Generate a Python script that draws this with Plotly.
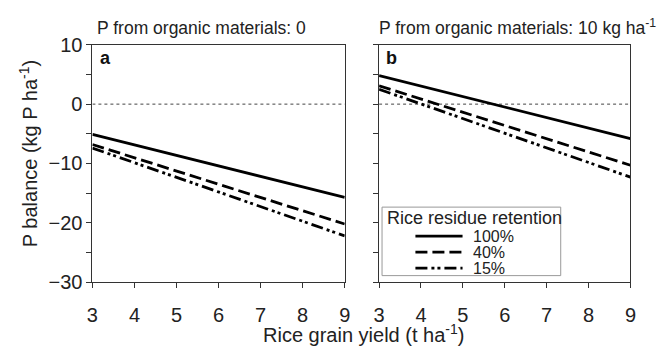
import plotly.graph_objects as go

yields = [3, 9]
retention = ["100%", "40%", "15%"]
left_vals = {"100%": [-5.1, -15.7], "40%": [-6.8, -20.2], "15%": [-7.4, -22.2]}
right_vals = {"100%": [4.8, -5.8], "40%": [3.1, -10.3], "15%": [2.5, -12.3]}
panel_titles = ["P from organic materials: 0", "P from organic materials: 10 kg ha<sup>-1</sup>"]
panel_letters = ["a", "b"]
legend_title = "Rice residue retention"
x_ticks = [3, 4, 5, 6, 7, 8, 9]
y_ticks = [-30, -20, -10, 0, 10]

dashes = {"100%": "solid", "40%": "12px,5px", "15%": "12px,4px,3px,3px,3px,4px"}
FONT = "Liberation Sans, Arial, sans-serif"
TXT = "#222"

fig = go.Figure()

for i, vals in enumerate([left_vals, right_vals]):
    xa = "x" if i == 0 else "x2"
    ya = "y" if i == 0 else "y2"
    fig.add_trace(go.Scatter(x=[x_ticks[0], x_ticks[-1]], y=[0, 0], mode="lines",
                             line=dict(color="#444", width=1, dash="dot"),
                             showlegend=False, hoverinfo="skip", xaxis=xa, yaxis=ya))
    for r in retention:
        fig.add_trace(go.Scatter(x=yields, y=vals[r], mode="lines", name=r,
                                 line=dict(color="black", width=2.8, dash=dashes[r]),
                                 showlegend=False, xaxis=xa, yaxis=ya))

W, H = 660, 357
def px_x(p): return p / W
def px_y(p): return 1 - p / H

axis_common = dict(range=[3, 9], showline=True, linecolor="#333", linewidth=1, mirror=True,
                   ticks="outside", ticklen=5, tickcolor="#333", tickvals=x_ticks,
                   ticklabelstandoff=10,
                   tickfont=dict(family=FONT, size=20, color=TXT), showgrid=False, zeroline=False)
yaxis_common = dict(range=[-30, 10], showline=True, linecolor="#333", linewidth=1, mirror=True,
                    ticks="outside", ticklen=5, tickcolor="#333", tickvals=y_ticks,
                    minor=dict(dtick=5, ticks="outside", ticklen=5, tickcolor="#333"),
                    tickfont=dict(family=FONT, size=20, color=TXT), showgrid=False, zeroline=False)

fig.update_layout(
    width=W, height=H, margin=dict(l=0, r=0, t=0, b=0),
    paper_bgcolor="white", plot_bgcolor="white",
    xaxis=dict(domain=[px_x(88), px_x(345)], anchor="y", **axis_common),
    yaxis=dict(domain=[px_y(289), px_y(36)], anchor="x", **yaxis_common),
    xaxis2=dict(domain=[px_x(380), px_x(636)], anchor="y2", **axis_common),
    yaxis2=dict(domain=[px_y(289), px_y(36)], anchor="x2", showticklabels=False, **yaxis_common),
    showlegend=False,
    font=dict(family=FONT, color=TXT),
)

annotations = []
shapes = []
for i, (t, l) in enumerate(zip(panel_titles, panel_letters)):
    x0 = 91 if i == 0 else 378
    annotations.append(dict(text=t, x=px_x(x0), y=px_y(31), xref="paper", yref="paper",
                            xanchor="left", yanchor="bottom", showarrow=False,
                            font=dict(family=FONT, size=17.5, color=TXT)))
    annotations.append(dict(text="<b>" + l + "</b>", x=px_x(94 if i == 0 else 385), y=px_y(50),
                            xref="paper", yref="paper", xanchor="left", yanchor="middle",
                            showarrow=False, font=dict(family=FONT, size=18, color="#111")))
annotations.append(dict(text="Rice grain yield (t ha<sup>-1</sup>)", x=px_x(364), y=px_y(359),
                        xref="paper", yref="paper", xanchor="center", yanchor="bottom",
                        showarrow=False, font=dict(family=FONT, size=20, color=TXT)))
annotations.append(dict(text="P balance (kg P ha<sup>-1</sup>)", x=px_x(23), y=px_y(152),
                        xref="paper", yref="paper", xanchor="center", yanchor="middle",
                        textangle=-90, showarrow=False, font=dict(family=FONT, size=20, color=TXT)))

# legend (drawn manually to match the compact spacing of the reference)
LX0, LX1, LY0, LY1 = 383, 565, 209, 282
shapes.append(dict(type="rect", xref="paper", yref="paper", x0=px_x(LX0), x1=px_x(LX1),
                   y0=px_y(LY1), y1=px_y(LY0), line=dict(color="#999", width=1),
                   fillcolor="white", layer="above"))
annotations.append(dict(text=legend_title, x=px_x(386), y=px_y(221), xref="paper", yref="paper",
                        xanchor="left", yanchor="middle", showarrow=False,
                        font=dict(family=FONT, size=18, color=TXT)))
for k, r in enumerate(retention):
    yy = 240 + 17 * k
    shapes.append(dict(type="line", xref="paper", yref="paper", x0=px_x(417), x1=px_x(465),
                       y0=px_y(yy), y1=px_y(yy), line=dict(color="black", width=2.8, dash=dashes[r]),
                       layer="above"))
    annotations.append(dict(text=r, x=px_x(474), y=px_y(yy), xref="paper", yref="paper",
                            xanchor="left", yanchor="middle", showarrow=False,
                            font=dict(family=FONT, size=16, color=TXT)))

fig.update_layout(annotations=annotations, shapes=shapes)

fig.write_html("out.html")
